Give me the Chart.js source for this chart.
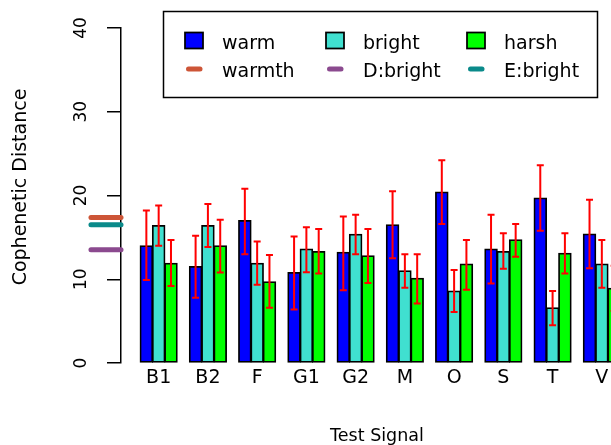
<!DOCTYPE html>
<html>
<head>
<meta charset="utf-8">
<script src="https://cdn.jsdelivr.net/npm/chart.js@4.4.1/dist/chart.umd.min.js"></script>
<style>
  html, body { margin: 0; padding: 0; overflow: hidden; background: #fff; }
  #wrap { width: 611px; height: 445px; overflow: hidden; }
  canvas { display: block; }
</style>
</head>
<body>
<div id="wrap"><canvas id="chart" width="680" height="445"></canvas></div>
<script>
// categories and values
const categories = ['B1', 'B2', 'F', 'G1', 'G2', 'M', 'O', 'S', 'T', 'V'];

const warm     = [14.0, 11.5, 17.0, 10.8, 13.2, 16.5, 20.4, 13.6, 19.7, 15.4];
const warmLo   = [9.9, 7.8, 13.0, 6.4, 8.7, 12.5, 16.6, 9.5, 15.8, 11.3];
const warmHi   = [18.2, 15.2, 20.8, 15.1, 17.5, 20.5, 24.2, 17.7, 23.6, 19.5];

const bright   = [16.4, 16.4, 11.9, 13.6, 15.35, 11.0, 8.6, 13.3, 6.6, 11.8];
const brightLo = [14.0, 13.85, 9.35, 10.85, 13.0, 9.0, 6.1, 11.25, 4.5, 9.0];
const brightHi = [18.8, 19.0, 14.5, 16.2, 17.7, 13.0, 11.1, 15.5, 8.6, 14.7];

const harsh    = [11.9, 14.0, 9.7, 13.3, 12.8, 10.1, 11.8, 14.7, 13.1, 8.9];
const harshLo  = [9.2, 10.8, 6.6, 10.7, 9.55, 7.1, 8.75, 12.7, 10.7, 6.2];
const harshHi  = [14.7, 17.1, 12.9, 16.0, 16.0, 13.0, 14.7, 16.6, 15.5, 11.6];

// reference levels (short lines left of the axis)
const warmthLevel  = 17.37;
const dBrightLevel = 13.52;
const eBrightLevel = 16.5;

const yTicks = [0, 10, 20, 30, 40];

// R barplot style units: each group is 4 bar widths, group centre at 4i+2.5
const groupCenters = categories.map((c, i) => 4 * i + 2.5);
const xMin = -0.56, xMax = 41.56;
const refLineFrom = -3.0;

const FONT = '"DejaVu Sans", sans-serif';
const INK = '#000';

function pts(values) {
    return values.map((v, i) => ({ x: groupCenters[i], y: v }));
}
function refLine(level) {
    return [{ x: refLineFrom, y: level }, { x: xMin, y: level }];
}

const errorBars = {
    warm: { lo: warmLo, hi: warmHi },
    bright: { lo: brightLo, hi: brightHi },
    harsh: { lo: harshLo, hi: harshHi }
};

// error bars drawn through the scales
const errorBarPlugin = {
    id: 'errorBars',
    afterDatasetsDraw(chart) {
        const ctx = chart.ctx;
        const y = chart.scales.y;
        ctx.save();
        ctx.strokeStyle = '#FF0000';
        ctx.lineWidth = 2;
        chart.data.datasets.forEach((ds, d) => {
            const eb = errorBars[ds.label];
            if (!eb) return;
            chart.getDatasetMeta(d).data.forEach((bar, i) => {
                const x = bar.x;
                const top = y.getPixelForValue(eb.hi[i]);
                const bot = y.getPixelForValue(eb.lo[i]);
                ctx.beginPath();
                ctx.moveTo(x, top); ctx.lineTo(x, bot);
                ctx.moveTo(x - 3.5, top); ctx.lineTo(x + 3.5, top);
                ctx.moveTo(x - 3.5, bot); ctx.lineTo(x + 3.5, bot);
                ctx.stroke();
            });
        });
        ctx.restore();
    }
};

// R-like texts: rotated y tick labels, axis titles, legend box
const decorPlugin = {
    id: 'decor',
    afterDraw(chart) {
        const ctx = chart.ctx;
        const y = chart.scales.y;
        ctx.save();
        ctx.fillStyle = INK;

        // y tick labels, parallel to the axis
        ctx.font = '17px ' + FONT;
        ctx.textAlign = 'center';
        ctx.textBaseline = 'alphabetic';
        yTicks.forEach(t => {
            ctx.save();
            ctx.translate(86, y.getPixelForValue(t));
            ctx.rotate(-Math.PI / 2);
            ctx.fillText(String(t), 0, 0);
            ctx.restore();
        });

        // y title
        ctx.font = '19px ' + FONT;
        ctx.save();
        ctx.translate(26, 187);
        ctx.rotate(-Math.PI / 2);
        ctx.fillText('Cophenetic Distance', 0, 0);
        ctx.restore();

        // x title
        ctx.font = '17.5px ' + FONT;
        ctx.fillText('Test Signal', 377, 441);

        // legend
        ctx.strokeStyle = '#000';
        ctx.lineWidth = 1.5;
        ctx.strokeRect(163.5, 11.5, 434, 86);

        ctx.font = '19px ' + FONT;
        ctx.textAlign = 'left';
        const cols = [185, 326, 467];
        const boxes = [
            { label: 'warm', color: '#0000FF' },
            { label: 'bright', color: '#40E0D0' },
            { label: 'harsh', color: '#00FF00' }
        ];
        const lines = [
            { label: 'warmth', color: '#CD5537' },
            { label: 'D:bright', color: '#8B4A8F' },
            { label: 'E:bright', color: '#0A8A8A' }
        ];
        boxes.forEach((b, i) => {
            ctx.fillStyle = b.color;
            ctx.fillRect(cols[i], 32.5, 18, 16);
            ctx.lineWidth = 1.75;
            ctx.strokeStyle = '#000';
            ctx.strokeRect(cols[i], 32.5, 18, 16);
            ctx.fillStyle = INK;
            ctx.fillText(b.label, cols[i] + 37, 49);
        });
        lines.forEach((l, i) => {
            ctx.strokeStyle = l.color;
            ctx.lineWidth = 5;
            ctx.lineCap = 'round';
            ctx.beginPath();
            ctx.moveTo(cols[i] + 3.5, 69);
            ctx.lineTo(cols[i] + 15, 69);
            ctx.stroke();
            ctx.fillStyle = INK;
            ctx.fillText(l.label, cols[i] + 37, 76.5);
        });
        ctx.restore();
    }
};

const barStyle = {
    borderColor: '#000',
    borderWidth: 1.75,
    borderSkipped: false,
    inflateAmount: 0.6,
    categoryPercentage: 0.75,
    barPercentage: 1.0
};

const lineStyle = {
    type: 'line',
    borderWidth: 5,
    pointRadius: 0,
    clip: false,
    borderCapStyle: 'round'
};

new Chart(document.getElementById('chart'), {
    type: 'bar',
    data: {
        datasets: [
            { label: 'warm', data: pts(warm), backgroundColor: '#0000FF', ...barStyle },
            { label: 'bright', data: pts(bright), backgroundColor: '#40E0D0', ...barStyle },
            { label: 'harsh', data: pts(harsh), backgroundColor: '#00FF00', ...barStyle },
            { label: 'warmth', data: refLine(warmthLevel), borderColor: '#CD5537', ...lineStyle },
            { label: 'D:bright', data: refLine(dBrightLevel), borderColor: '#8B4A8F', ...lineStyle },
            { label: 'E:bright', data: refLine(eBrightLevel), borderColor: '#0A8A8A', ...lineStyle }
        ]
    },
    options: {
        responsive: false,
        animation: false,
        layout: { padding: { left: 0, top: 28, right: 40.5, bottom: 42 } },
        plugins: { legend: { display: false }, tooltip: { enabled: false } },
        scales: {
            x: {
                type: 'linear',
                min: xMin,
                max: xMax,
                offset: false,
                grid: { display: false, drawTicks: false },
                border: { display: false },
                afterBuildTicks: scale => {
                    scale.ticks = groupCenters.map(v => ({ value: v }));
                },
                afterFit: scale => { scale.height = 40; },
                ticks: {
                    autoSkip: false,
                    maxRotation: 0,
                    padding: 4,
                    color: INK,
                    font: { family: FONT, size: 19 },
                    callback: (v, i) => categories[i]
                }
            },
            y: {
                type: 'linear',
                min: 0,
                max: 40,
                afterBuildTicks: scale => {
                    scale.ticks = yTicks.map(v => ({ value: v }));
                },
                afterFit: scale => { scale.width = 121; },
                grid: {
                    drawOnChartArea: false,
                    drawTicks: true,
                    tickLength: 14,
                    color: '#000',
                    lineWidth: 1.5
                },
                border: { display: true, color: '#000', width: 1.5 },
                ticks: { display: false }
            }
        }
    },
    plugins: [errorBarPlugin, decorPlugin]
});
</script>
</body>
</html>
